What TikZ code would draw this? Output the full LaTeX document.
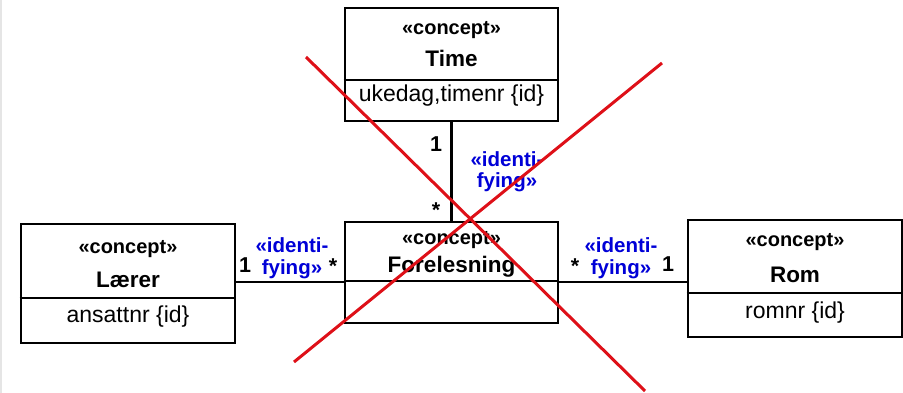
\documentclass[tikz,border=0pt]{standalone}
\usepackage{fontspec}
\setmainfont{Liberation Sans}
\usetikzlibrary{calc}
\definecolor{idblue}{RGB}{0,0,215}
\definecolor{crossred}{RGB}{222,16,24}
\tikzset{
  concept/.style={draw, line width=2.6pt, inner sep=0pt},
  stereo/.style={anchor=base, inner sep=0pt, font=\bfseries\fontsize{20}{22}\selectfont},
  cname/.style={anchor=base, inner sep=0pt, font=\bfseries\fontsize{22.5}{24}\selectfont},
  attr/.style={anchor=base, inner sep=0pt, font=\fontsize{23}{25}\selectfont},
  mult/.style={anchor=base, inner sep=0pt, font=\bfseries\fontsize{21.5}{23}\selectfont},
  ident/.style={anchor=base, inner sep=0pt, align=center, text=idblue, font=\bfseries\fontsize{20.5}{21.5}\selectfont},
  assoc/.style={line width=2.2pt},
  splitrule/.style={line width=1.2pt},
  cross/.style={crossred, line width=3pt}
}
\newcommand{\splitline}[2]{\draw[splitrule] (#1.west |- 0,#2) -- (#1.east |- 0,#2);}
\newcommand{\multnode}[4]{\node[mult] (#1) at (#2,#3) {#4};}

\begin{document}
\begin{tikzpicture}[x=1pt, y=-1pt]
        \useasboundingbox (0,0) rectangle (903,393);
        \draw[gray!20, line width=1.5pt] (1,0) -- (1,393);

        % boxes
        \node[concept, minimum width=213, minimum height=113] (time) at (451.5,64.5) {};
        \node[concept, minimum width=213, minimum height=101] (forel) at (451.5,272.5) {};
        \node[concept, minimum width=214, minimum height=119] (laerer) at (128,283.5) {};
        \node[concept, minimum width=214, minimum height=117] (rom) at (795,278.5) {};

        \splitline{time}{80}
        \splitline{forel}{281}
        \splitline{laerer}{298}
        \splitline{rom}{293}

        % texts
        \node[stereo] (timeS) at (451.5,35) {«concept»};
        \node[cname] (timeN) at (451.5,67) {Time};
        \node[attr] (timeA) at (451.5,102) {ukedag,timenr \{id\}};

        \node[stereo] (forelS) at (451.5,244) {«concept»};
        \node[cname] (forelN) at (451.5,272) {Forelesning};

        \node[stereo] (laererS) at (128,254) {«concept»};
        \node[cname] (laererN) at (128,287) {Lærer};
        \node[attr] (laererA) at (128,322) {ansattnr \{id\}};

        \node[stereo] (romS) at (795,247) {«concept»};
        \node[cname] (romN) at (795,282) {Rom};
        \node[attr] (romA) at (795,318) {romnr \{id\}};

        % associations
        \draw[assoc] (time.south) -- (forel.north);
        \draw[assoc] (laerer.east |- 0,282) -- (forel.west |- 0,282);
        \draw[assoc] (forel.east |- 0,282) -- (rom.west |- 0,282);

        \multnode{m1}{436}{152}{1}
        \multnode{m2}{436}{218}{*}
        \node[ident] (id1) at (507,188) {«identi-\\fying»};

        \multnode{m3}{245}{272}{1}
        \multnode{m4}{333}{273}{*}
        \node[ident] (id2) at (292,274) {«identi-\\fying»};

        \multnode{m5}{575}{273}{*}
        \multnode{m6}{668}{271}{1}
        \node[ident] (id3) at (621,274) {«identi-\\fying»};

        % cross
        \coordinate (c1) at (306,57);
        \coordinate (c2) at (645,391);
        \coordinate (c3) at (662,63);
        \coordinate (c4) at (294,362);
        \draw[cross] (c1) -- (c2);
        \draw[cross] (c3) -- (c4);
    \end{tikzpicture}
\end{document}
